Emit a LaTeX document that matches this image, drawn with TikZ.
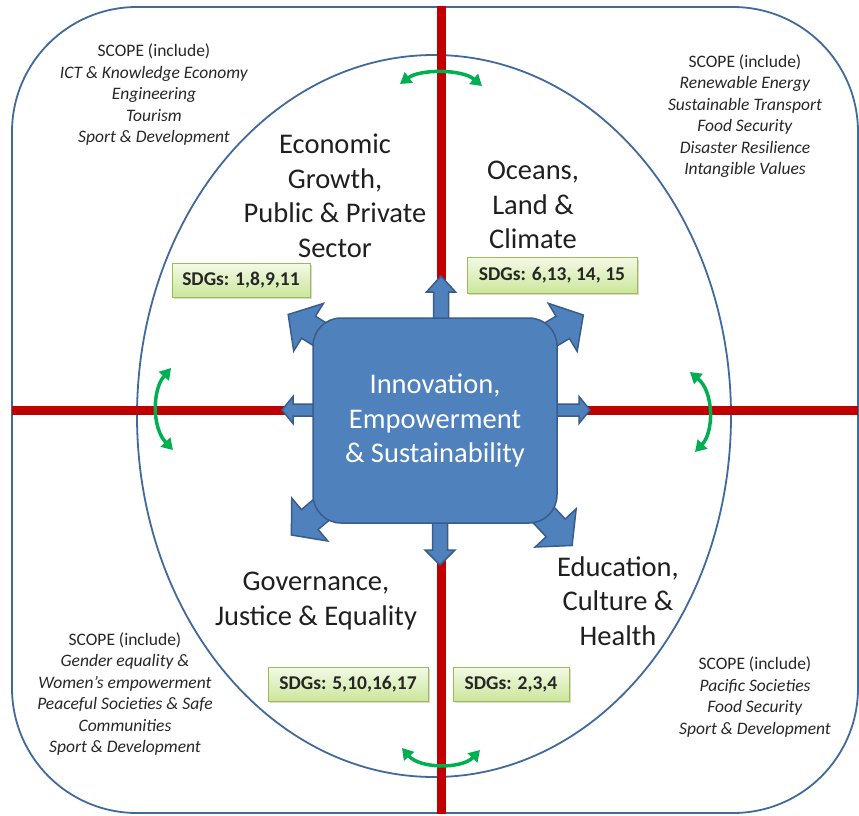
\documentclass[tikz,border=0pt]{standalone}
\usepackage{fontspec}
\setmainfont{Carlito}
\usetikzlibrary{calc, arrows.meta, shadows}

\definecolor{frameblue}{RGB}{65,105,155}
\definecolor{boxblue}{RGB}{79,129,189}
\definecolor{boxedge}{RGB}{56,93,138}
\definecolor{axisred}{RGB}{192,0,0}
\definecolor{turngreen}{RGB}{0,176,80}
\definecolor{sdgedge}{RGB}{155,187,89}
\definecolor{sdgtop}{RGB}{243,250,230}
\definecolor{sdgbottom}{RGB}{204,230,155}

\tikzset{
  blockarrow/.style={fill=boxblue, draw=boxedge, line width=1.5pt, line join=miter},
  turn/.style={draw=turngreen, line width=3.5pt, {Triangle[length=11pt,width=13pt]}-{Triangle[length=11pt,width=13pt]}},
  sdgbox/.style={draw=sdgedge, line width=1pt, top color=sdgtop, bottom color=sdgbottom,
    drop shadow={opacity=0.3, shadow xshift=2pt, shadow yshift=-2pt},
    font=\fontsize{19.5}{22}\selectfont\bfseries, text=black!85, inner sep=0pt},
  bigtext/.style={align=center, font=\fontsize{28.5}{34.5}\selectfont, text=black!88},
  scopetext/.style={align=center, font=\fontsize{17.5}{21.5}\selectfont, text=black!85}
}

% block arrow: tail, angle, length, shaft half width, head half width, head length
\newcommand{\blockarrow}[6]{%
  \begin{scope}[shift={#1}, rotate=#2]
    \filldraw[blockarrow] (0,-#4) -- ({#3-#6},-#4) -- ({#3-#6},-#5) -- (#3,0) -- ({#3-#6},#5) -- ({#3-#6},#4) -- (0,#4) -- cycle;
  \end{scope}}

\begin{document}
\begin{tikzpicture}[x=1pt, y=-1pt]
  \useasboundingbox (0,0) rectangle (859,816);

  % frame and ring
  \draw[frameblue, line width=1.8pt, rounded corners=125pt] (12,7) rectangle (858,813);
  \draw[frameblue, line width=1.8pt] (434,416) ellipse [x radius=297, y radius=361];

  % axes
  \coordinate (axtop) at (441,6);
  \coordinate (axbottom) at (441,814);
  \coordinate (axleft) at (12,410);
  \coordinate (axright) at (858,410);
  \draw[axisred, line width=9pt] (axtop) -- (axbottom);
  \draw[axisred, line width=9pt] (axleft) -- (axright);

  % green turning arrows
  \draw[turn] (400,84) .. controls (420,69) and (462,69) .. (482,86);
  \draw[turn] (402,748) .. controls (420,769) and (462,769) .. (480,750);
  \draw[turn] (171,368) .. controls (152,390) and (152,428) .. (173,450);
  \draw[turn] (690,372) .. controls (714,392) and (714,432) .. (695,452);

  % arrows out of the hub
  \blockarrow{(441,330)}{90}{54}{7.5}{14.5}{16}
  \blockarrow{(440,510)}{-90}{55}{7.5}{15}{15}
  \blockarrow{(325,410)}{180}{43}{6}{13.5}{11}
  \blockarrow{(545,410)}{0}{45}{6}{13.5}{11}
  \blockarrow{(345,350)}{148}{67}{13}{28}{24}
  \blockarrow{(525,350)}{31}{68}{13}{28}{24}
  \blockarrow{(345,490)}{220}{70}{13}{28}{24}
  \blockarrow{(525,495)}{-47}{69}{13}{28}{24}

  % hub
  \node[draw=boxedge, fill=boxblue, line width=1.5pt, rounded corners=28pt,
    minimum width=244pt, minimum height=205pt, align=center, text=white,
    font=\fontsize{28.5}{34.5}\selectfont] (hub) at (435,420.5)
    {Innovation,\\Empowerment\\\& Sustainability};

  % quadrant titles
  \node[bigtext] (econ) at (335,196) {Economic\\Growth,\\Public \& Private\\Sector};
  \node[bigtext] (ocean) at (533,205) {Oceans,\\Land \&\\Climate};
  \node[bigtext] (gov) at (316,601) {Governance,\\Justice \& Equality};
  \node[bigtext] (edu) at (618,601) {Education,\\Culture \&\\Health};

  % SDG tags
  \node[sdgbox, minimum width=138pt, minimum height=34pt] (sdgecon) at (241,280) {SDGs: 1,8,9,11};
  \node[sdgbox, minimum width=170pt, minimum height=36pt] (sdgocean) at (552,275) {SDGs: 6,13, 14, 15};
  \node[sdgbox, minimum width=160pt, minimum height=34pt] (sdggov) at (348,684) {SDGs: 5,10,16,17};
  \node[sdgbox, minimum width=116pt, minimum height=34pt] (sdgedu) at (511,684) {SDGs: 2,3,4};

  % scope lists
  \node[scopetext] (scopeecon) at (154,95) {SCOPE (include)\\\textit{ICT \& Knowledge Economy}\\\textit{Engineering}\\\textit{Tourism}\\\textit{Sport \& Development}};
  \node[scopetext] (scopeocean) at (745,116) {SCOPE (include)\\\textit{Renewable Energy}\\\textit{Sustainable Transport}\\\textit{Food Security}\\\textit{Disaster Resilience}\\\textit{Intangible Values}};
  \node[scopetext] (scopegov) at (125,694) {SCOPE (include)\\\textit{Gender equality \&}\\\textit{Women’s empowerment}\\\textit{Peaceful Societies \& Safe}\\\textit{Communities}\\\textit{Sport \& Development}};
  \node[scopetext] (scopeedu) at (755,697) {SCOPE (include)\\\textit{Pacific Societies}\\\textit{Food Security}\\\textit{Sport \& Development}};
\end{tikzpicture}
\end{document}
